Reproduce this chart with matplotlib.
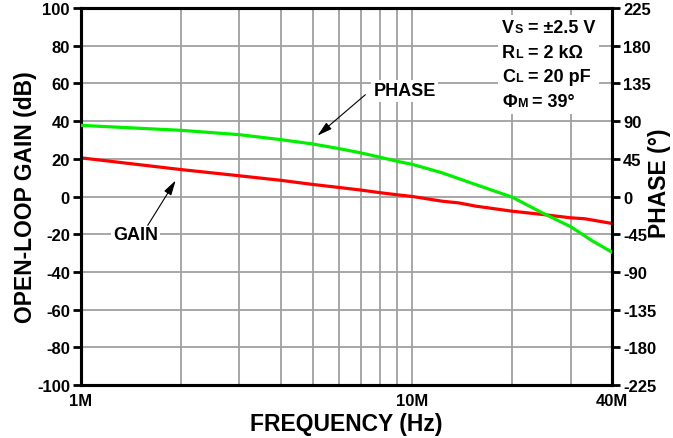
import numpy as np
import matplotlib
matplotlib.use("Agg")
from matplotlib import pyplot as plt
from matplotlib.offsetbox import TextArea, HPacker, VPacker, AnchoredOffsetbox

plt.rcParams['font.family'] = ['Liberation Sans', 'DejaVu Sans']
plt.rcParams['font.weight'] = 'bold'
plt.rcParams['axes.unicode_minus'] = False

# gain curve (frequency in Hz, gain in dB)
gain_freq = [1e6, 2e6, 3e6, 4e6, 5e6, 6e6, 7e6, 8e6, 9e6, 10e6, 12.3e6, 13.8e6, 15.5e6,
             20e6, 24.6e6, 30e6, 33.1e6, 40e6]
gain_db = [20.5, 14.3, 11.0, 8.6, 6.4, 4.8, 3.4, 2.0, 0.9, 0.0, -2.5, -3.4, -5.1,
           -7.8, -9.5, -11.3, -11.8, -14.3]

# phase curve (frequency in Hz, phase in degrees)
phase_freq = [1e6, 2e6, 3e6, 4e6, 5e6, 6e6, 7e6, 8e6, 9e6, 10e6, 12.3e6, 15.5e6,
              20e6, 24.6e6, 30e6, 34.9e6, 40e6]
phase_deg = [84.9, 79.0, 73.8, 67.9, 62.7, 57.2, 52.0, 46.8, 42.0, 38.3, 28.2, 14.3,
             -0.8, -19.4, -36.0, -53.0, -66.5]

gain_ticks = list(range(-100, 101, 20))
phase_ticks = list(range(-225, 226, 45))
x_major = [1e6, 10e6, 40e6]
x_major_labels = ['1M', '10M', '40M']
x_minor = [2e6, 3e6, 4e6, 5e6, 6e6, 7e6, 8e6, 9e6, 20e6, 30e6]

conditions = [("V", "S", " = ±2.5 V"),
              ("R", "L", " = 2 kΩ"),
              ("C", "L", " = 20 pF"),
              ("Φ", "M", " = 39°")]

W, H = 673, 439
fig = plt.figure(figsize=(W/100, H/100), dpi=100)
ax = fig.add_axes([81/W, 1-386/H, (612-81)/W, (386-9)/H])

ax.set_xscale('log')
ax.set_xlim(1e6, 40e6)
ax.set_ylim(-100, 100)
ax.set_xticks(x_major)
ax.set_xticklabels(x_major_labels)
ax.set_xticks(x_minor, minor=True)
ax.xaxis.set_minor_formatter(plt.NullFormatter())
ax.set_yticks(gain_ticks)
ax.grid(True, which='both', color='#a0a0a0', lw=1.3)
ax.set_axisbelow(True)
ax.tick_params(axis='x', which='both', length=0, labelsize=12, pad=6)
ax.tick_params(axis='y', length=6, width=2, direction='out', labelsize=12, pad=2)
for s in ax.spines.values():
    s.set_linewidth(2.2)

ax.plot(gain_freq, gain_db, color='#ff0000', lw=2.3, zorder=3)

ax2 = ax.twinx()
ax2.set_ylim(-225, 225)
ax2.set_yticks(phase_ticks)
ax2.tick_params(axis='y', length=6, width=2, direction='out', labelsize=12, pad=2)
for s in ax2.spines.values():
    s.set_linewidth(2.2)
ax2.plot(phase_freq, phase_deg, color='#00f000', lw=2.3, zorder=3)

ax.set_xlabel('FREQUENCY (Hz)', fontsize=16.5, fontweight='bold', labelpad=3)
ax.set_ylabel('OPEN-LOOP GAIN (dB)', fontsize=16.5, fontweight='bold')
ax.yaxis.set_label_coords(-0.083, 0.5)
ax2.set_ylabel('PHASE (°)', fontsize=16.5, fontweight='bold')
ax2.yaxis.set_label_coords(1.068, 0.538)

box = dict(fc='white', ec='none', pad=1.5)
arrow = dict(arrowstyle='-|>,head_length=0.9,head_width=0.25', color='black', lw=0.8, shrinkA=0, shrinkB=0)
ax.text(1.46e6, -20.1, 'GAIN', fontsize=13, fontweight='bold', ha='center', va='center', bbox=box, zorder=5)
ax.annotate('', xy=(1.93e6, 8.5), xytext=(1.59e6, -15.3), arrowprops=arrow, zorder=5)
ax.text(9.47e6, 56, 'PHASE', fontsize=13, fontweight='bold', ha='center', va='center', bbox=box, zorder=5)
ax.annotate('', xy=(5.17e6, 32.3), xytext=(7.21e6, 54), arrowprops=arrow, zorder=5)

# conditions block with subscripts
rows = []
for main, sub, rest in conditions:
    rows.append(HPacker(children=[
        TextArea(main, textprops=dict(fontsize=13, fontweight='bold')),
        TextArea(sub, textprops=dict(fontsize=9, fontweight='bold')),
        TextArea(rest, textprops=dict(fontsize=13, fontweight='bold')),
    ], align='baseline', pad=0, sep=0))
block = VPacker(children=rows, align='left', pad=0, sep=5.5)
anch = AnchoredOffsetbox(loc='upper left', child=block, pad=0.3, borderpad=0, frameon=True,
                         bbox_to_anchor=(498/W, 1-16/H), bbox_transform=fig.transFigure)
anch.patch.set_facecolor('white')
anch.patch.set_edgecolor('none')
anch.set_zorder(6)
ax2.add_artist(anch)

fig.savefig('out.png', dpi=100)
